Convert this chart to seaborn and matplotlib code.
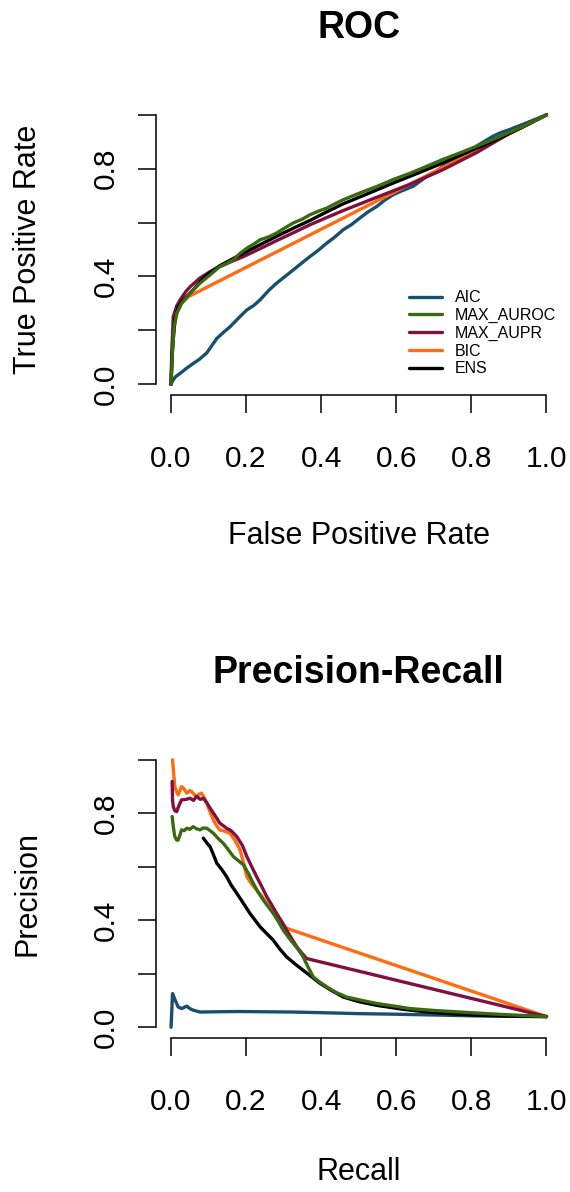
import numpy as np
import pandas as pd
import matplotlib
matplotlib.use("Agg")
import matplotlib.pyplot as plt
import seaborn as sns

# ROC curves (false positive rate, true positive rate)
roc_aic_x = [0.000, 0.005, 0.012, 0.024, 0.040, 0.059, 0.075, 0.095, 0.110, 0.122, 0.140, 0.157, 0.180, 0.202,
             0.220, 0.237, 0.260, 0.281, 0.300, 0.326, 0.350, 0.370, 0.392, 0.415, 0.435, 0.459, 0.480, 0.503,
             0.525, 0.548, 0.570, 0.592, 0.615, 0.645, 0.665, 0.681, 0.705, 0.725, 0.750, 0.770, 0.790, 0.814,
             0.835, 0.858, 0.880, 0.903, 0.950, 1.000]
roc_aic_y = [0.000, 0.015, 0.028, 0.040, 0.058, 0.077, 0.092, 0.116, 0.146, 0.170, 0.193, 0.213, 0.246, 0.276,
             0.292, 0.313, 0.348, 0.375, 0.396, 0.425, 0.452, 0.474, 0.497, 0.524, 0.545, 0.574, 0.592, 0.617,
             0.640, 0.660, 0.684, 0.704, 0.718, 0.735, 0.755, 0.772, 0.790, 0.809, 0.830, 0.847, 0.862, 0.884,
             0.902, 0.921, 0.935, 0.946, 0.972, 1.000]

roc_auroc_x = [0.000, 0.002, 0.004, 0.008, 0.015, 0.028, 0.051, 0.077, 0.104, 0.130, 0.148, 0.166, 0.185, 0.202,
               0.220, 0.237, 0.260, 0.281, 0.305, 0.326, 0.350, 0.370, 0.392, 0.415, 0.440, 0.459, 0.480, 0.503,
               0.550, 0.592, 0.640, 0.681, 0.725, 0.770, 0.815, 0.858, 0.930, 1.000]
roc_auroc_y = [0.000, 0.060, 0.127, 0.213, 0.263, 0.300, 0.338, 0.375, 0.406, 0.437, 0.448, 0.462, 0.487, 0.505,
               0.520, 0.536, 0.547, 0.561, 0.582, 0.599, 0.613, 0.629, 0.642, 0.654, 0.672, 0.685, 0.697, 0.710,
               0.735, 0.760, 0.785, 0.809, 0.835, 0.859, 0.884, 0.909, 0.952, 1.000]

roc_aupr_x = [0.000, 0.002, 0.006, 0.015, 0.024, 0.040, 0.051, 0.077, 0.104, 0.130, 0.160, 0.193, 0.240, 0.281,
              0.330, 0.370, 0.420, 0.459, 0.548, 0.636, 0.725, 0.814, 0.900, 1.000]
roc_aupr_y = [0.000, 0.120, 0.251, 0.290, 0.313, 0.345, 0.362, 0.394, 0.418, 0.437, 0.455, 0.474, 0.505, 0.533,
              0.565, 0.592, 0.622, 0.645, 0.694, 0.742, 0.797, 0.860, 0.930, 1.000]

roc_bic_x = [0.000, 0.003, 0.006, 0.015, 0.028, 0.046, 1.000]
roc_bic_y = [0.000, 0.120, 0.189, 0.263, 0.300, 0.325, 1.000]

roc_ens_x = [0.000, 0.003, 0.010, 0.020, 0.033, 0.059, 0.090, 0.130, 0.165, 0.202, 0.240, 0.281, 0.330, 0.370,
             0.415, 0.459, 0.520, 0.592, 0.660, 0.725, 0.790, 0.858, 0.930, 1.000]
roc_ens_y = [0.000, 0.110, 0.240, 0.290, 0.313, 0.350, 0.400, 0.440, 0.466, 0.493, 0.520, 0.549, 0.582, 0.608,
             0.640, 0.670, 0.705, 0.747, 0.785, 0.822, 0.862, 0.903, 0.950, 1.000]

# Precision-recall curves (recall, precision)
pr_aic_x = [0.000, 0.002, 0.004, 0.010, 0.019, 0.028, 0.042, 0.050, 0.059, 0.077, 0.120, 0.180, 0.250, 0.326,
            0.420, 0.500, 0.592, 0.700, 0.800, 0.900, 1.000]
pr_aic_y = [0.000, 0.060, 0.126, 0.105, 0.076, 0.070, 0.079, 0.070, 0.064, 0.057, 0.058, 0.059, 0.058, 0.057,
            0.054, 0.051, 0.049, 0.046, 0.043, 0.041, 0.040]

pr_auroc_x = [0.003, 0.006, 0.010, 0.015, 0.019, 0.024, 0.028, 0.035, 0.042, 0.050, 0.059, 0.068, 0.077, 0.086,
              0.095, 0.104, 0.113, 0.126, 0.139, 0.152, 0.166, 0.180, 0.193, 0.206, 0.219, 0.232, 0.246, 0.259,
              0.272, 0.286, 0.299, 0.312, 0.326, 0.339, 0.352, 0.365, 0.379, 0.397, 0.415, 0.440, 0.468, 0.510,
              0.548, 0.600, 0.636, 0.700, 0.770, 0.880, 1.000]
pr_auroc_y = [0.788, 0.750, 0.713, 0.700, 0.700, 0.720, 0.738, 0.735, 0.744, 0.740, 0.750, 0.742, 0.738, 0.745,
              0.744, 0.735, 0.725, 0.705, 0.688, 0.665, 0.638, 0.622, 0.607, 0.575, 0.538, 0.505, 0.475, 0.450,
              0.426, 0.395, 0.363, 0.338, 0.313, 0.290, 0.263, 0.225, 0.188, 0.168, 0.151, 0.130, 0.113, 0.100,
              0.089, 0.078, 0.070, 0.063, 0.057, 0.048, 0.040]

pr_aupr_x = [0.003, 0.004, 0.006, 0.010, 0.015, 0.020, 0.028, 0.040, 0.051, 0.060, 0.068, 0.078, 0.086, 0.095,
             0.104, 0.117, 0.130, 0.148, 0.160, 0.175, 0.190, 0.202, 0.215, 0.228, 0.242, 0.255, 0.268, 0.281,
             0.295, 0.308, 0.322, 0.335, 0.348, 0.361, 1.000]
pr_aupr_y = [0.919, 0.850, 0.825, 0.810, 0.806, 0.825, 0.850, 0.852, 0.856, 0.848, 0.863, 0.852, 0.856, 0.840,
             0.819, 0.792, 0.763, 0.744, 0.735, 0.713, 0.680, 0.638, 0.600, 0.563, 0.525, 0.488, 0.458, 0.426,
             0.395, 0.363, 0.330, 0.301, 0.278, 0.257, 0.040]

pr_bic_x = [0.004, 0.007, 0.010, 0.015, 0.019, 0.024, 0.028, 0.035, 0.042, 0.050, 0.055, 0.062, 0.068, 0.075,
            0.081, 0.088, 0.095, 0.104, 0.113, 0.122, 0.130, 0.145, 0.157, 0.170, 0.184, 0.193, 0.202, 0.215,
            0.228, 0.242, 0.255, 0.268, 0.281, 0.295, 0.308, 1.000]
pr_bic_y = [1.000, 0.950, 0.900, 0.880, 0.869, 0.885, 0.900, 0.890, 0.875, 0.885, 0.881, 0.870, 0.863, 0.872,
            0.875, 0.860, 0.838, 0.805, 0.775, 0.752, 0.738, 0.732, 0.725, 0.700, 0.663, 0.615, 0.563, 0.535,
            0.513, 0.490, 0.463, 0.440, 0.413, 0.390, 0.370, 0.040]

pr_ens_x = [0.086, 0.095, 0.104, 0.113, 0.122, 0.135, 0.148, 0.160, 0.175, 0.192, 0.210, 0.224, 0.237, 0.255,
            0.272, 0.290, 0.308, 0.330, 0.352, 0.375, 0.397, 0.428, 0.459, 0.500, 0.548, 0.615, 0.681, 0.750,
            0.814, 0.900, 1.000]
pr_ens_y = [0.707, 0.690, 0.675, 0.645, 0.613, 0.590, 0.563, 0.532, 0.501, 0.465, 0.426, 0.400, 0.376, 0.350,
            0.326, 0.292, 0.263, 0.237, 0.213, 0.188, 0.164, 0.137, 0.113, 0.096, 0.082, 0.068, 0.057, 0.050,
            0.045, 0.042, 0.040]

names = ["AIC", "MAX_AUROC", "MAX_AUPR", "BIC", "ENS"]
colors = {"AIC": "#17506f", "MAX_AUROC": "#3a6a10", "MAX_AUPR": "#80103f", "BIC": "#ff6c10", "ENS": "#000000"}
zorders = {"AIC": 2, "BIC": 3, "MAX_AUPR": 4, "ENS": 5, "MAX_AUROC": 6}

roc = {"AIC": (roc_aic_x, roc_aic_y), "MAX_AUROC": (roc_auroc_x, roc_auroc_y), "MAX_AUPR": (roc_aupr_x, roc_aupr_y),
       "BIC": (roc_bic_x, roc_bic_y), "ENS": (roc_ens_x, roc_ens_y)}
pr = {"AIC": (pr_aic_x, pr_aic_y), "MAX_AUROC": (pr_auroc_x, pr_auroc_y), "MAX_AUPR": (pr_aupr_x, pr_aupr_y),
      "BIC": (pr_bic_x, pr_bic_y), "ENS": (pr_ens_x, pr_ens_y)}

sns.set_style("ticks")
plt.rcParams["font.family"] = ["Liberation Sans", "DejaVu Sans"]
plt.rcParams["text.color"] = "black"
plt.rcParams["axes.labelcolor"] = "black"
plt.rcParams["xtick.color"] = "black"
plt.rcParams["ytick.color"] = "black"

fig = plt.figure(figsize=(5.7, 11.92), dpi=100)
ax1 = fig.add_axes([0.2737, 0.6686, 0.7114, 0.2441])
ax2 = fig.add_axes([0.2737, 0.1292, 0.7114, 0.2424])


def style_axis(ax, title, xlabel, ylabel, xlabel_y):
    ax.set_xlim(-0.04, 1.04)
    ax.set_ylim(-0.04, 1.04)
    ax.set_xticks([0, 0.2, 0.4, 0.6, 0.8, 1.0])
    ax.set_xticklabels(["0.0", "0.2", "0.4", "0.6", "0.8", "1.0"])
    ax.set_yticks([0, 0.2, 0.4, 0.6, 0.8, 1.0])
    ax.set_yticklabels(["0.0", "", "0.4", "", "0.8", ""], rotation=90, va="center")
    ax.tick_params(axis="both", direction="out", length=13, width=1.1, labelsize=21.5,
                   color="black", labelcolor="black")
    ax.tick_params(axis="x", pad=23)
    ax.tick_params(axis="y", pad=13)
    sns.despine(ax=ax)
    for side in ["left", "bottom"]:
        ax.spines[side].set_bounds(0, 1)
        ax.spines[side].set_linewidth(1.1)
        ax.spines[side].set_color("black")
    ax.set_xlabel(xlabel, fontsize=22, va="center", color="black")
    ax.xaxis.set_label_coords(0.5, xlabel_y)
    ax.set_ylabel(ylabel, fontsize=22, va="center", color="black")
    ax.yaxis.set_label_coords(-0.3165, 0.5)
    ax.text(0.5, 1.262, title, transform=ax.transAxes, ha="center", va="center",
            fontsize=27, fontweight="bold", color="black")
    ax.patch.set_alpha(0)


for ax, curves in [(ax1, roc), (ax2, pr)]:
    for name in names:
        xs, ys = curves[name]
        df = pd.DataFrame({"x": xs, "y": ys})
        sns.lineplot(data=df, x="x", y="y", sort=False, estimator=None, color=colors[name],
                     linewidth=2.4, label=name, zorder=zorders[name], ax=ax, legend=False)

style_axis(ax1, "ROC", "False Positive Rate", "True Positive Rate", -0.485)
style_axis(ax2, "Precision-Recall", "Recall", "Precision", -0.465)

handles, labels = ax1.get_legend_handles_labels()
ax1.legend(handles, labels, loc="upper left", bbox_to_anchor=(0.624, 0.36), frameon=False,
           fontsize=11.5, handlelength=2.06, handletextpad=0.8, labelspacing=0.17,
           borderpad=0, borderaxespad=0, labelcolor="black")

fig.savefig("out.png", dpi=100)
